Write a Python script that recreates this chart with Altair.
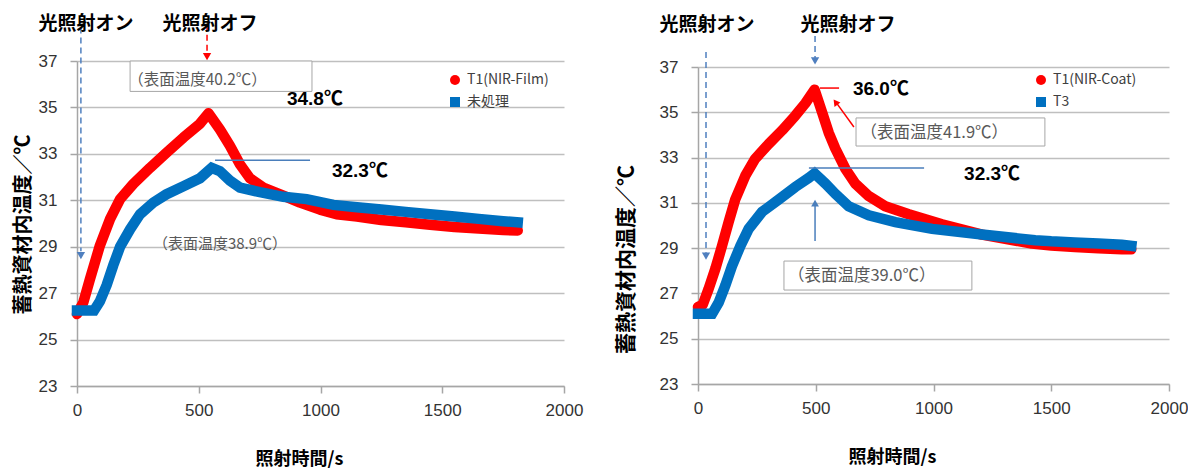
import altair as alt
import pandas as pd

# ---------------- data ----------------
L_RED_T = [0, 26, 53, 94, 136, 177, 231, 300, 368, 437, 505, 540, 587, 628, 669, 710, 765, 847, 916, 998, 1066, 1150, 1250, 1350, 1450, 1550, 1650, 1750, 1810]
L_RED_V = [26.1, 26.6, 27.6, 29.05, 30.2, 31.05, 31.7, 32.4, 33.05, 33.7, 34.3, 34.75, 34.05, 33.35, 32.55, 31.95, 31.55, 31.2, 30.9, 30.6, 30.4, 30.3, 30.15, 30.05, 29.95, 29.85, 29.78, 29.72, 29.7]
L_BLUE_T = [0, 70, 94, 122, 149, 177, 218, 259, 313, 366, 437, 505, 553, 587, 628, 669, 751, 847, 943, 1053, 1150, 1250, 1350, 1450, 1550, 1650, 1750, 1810]
L_BLUE_V = [26.25, 26.25, 26.65, 27.35, 28.2, 29.0, 29.75, 30.4, 30.9, 31.25, 31.6, 31.95, 32.4, 32.25, 31.85, 31.55, 31.35, 31.15, 31.05, 30.8, 30.7, 30.6, 30.5, 30.4, 30.3, 30.2, 30.1, 30.05]

R_RED_T = [0, 20, 45, 74, 102, 130, 158, 201, 243, 300, 357, 413, 456, 495, 527, 555, 583, 626, 668, 725, 795, 895, 1036, 1206, 1418, 1500, 1600, 1700, 1800, 1840]
R_RED_V = [26.4, 26.5, 27.2, 28.1, 29.1, 30.15, 31.15, 32.2, 32.95, 33.6, 34.2, 34.85, 35.4, 36.0, 35.0, 34.1, 33.4, 32.5, 31.85, 31.3, 30.85, 30.5, 30.05, 29.6, 29.2, 29.12, 29.05, 29.0, 28.95, 28.95]
R_BLUE_T = [0, 60, 88, 116, 144, 180, 215, 272, 343, 413, 470, 495, 541, 583, 640, 725, 838, 994, 1206, 1432, 1500, 1600, 1700, 1800, 1840]
R_BLUE_V = [26.1, 26.1, 26.6, 27.35, 28.2, 29.1, 29.85, 30.6, 31.15, 31.7, 32.1, 32.3, 31.85, 31.4, 30.85, 30.45, 30.15, 29.85, 29.6, 29.35, 29.3, 29.25, 29.2, 29.15, 29.1]

L_NAMES = ["T1(NIR-Film)", "未処理"]
R_NAMES = ["T1(NIR-Coat)", "T3"]
Y_TICKS = [23, 25, 27, 29, 31, 33, 35, 37]
X_TICKS = [0, 500, 1000, 1500, 2000]
X_TITLE = "照射時間/s"
Y_TITLE = "蓄熱資材内温度／℃"
ON_LABEL = "光照射オン"
OFF_LABEL = "光照射オフ"
L_PEAK_RED = "34.8℃"
L_PEAK_BLUE = "32.3℃"
L_SURF_RED = "（表面温度40.2℃）"
L_SURF_BLUE = "（表面温度38.9℃）"
R_PEAK_RED = "36.0℃"
R_PEAK_BLUE = "32.3℃"
R_SURF_RED = "（表面温度41.9℃）"
R_SURF_BLUE = "（表面温度39.0℃）"

# ---------------- styles ----------------
RED = "#ff0000"
BLUE = "#0070c0"
DASH_BLUE = "#4f7fbf"
LINE_BLUE = "#4a7ebb"
GRID = "#bfbfbf"
AXIS_C = "#a6a6a6"
GRAY_TXT = "#595959"
JP = "Noto Sans CJK JP"
NUM = "Liberation Sans, Noto Sans CJK JP"


def encodings(x_title_x, y_title_x, y_title_y, y_title_size):
    X = alt.X("t:Q", scale=alt.Scale(domain=[0, 2000], nice=False),
              axis=alt.Axis(values=X_TICKS, title=X_TITLE, grid=False, format="d", labelFlush=False,
                            titleX=x_title_x, titleY=73, titleBaseline="middle",
                            titleAnchor="start", titleAlign="center"))
    Y = alt.Y("v:Q", scale=alt.Scale(domain=[23, 37], nice=False, zero=False),
              axis=alt.Axis(values=Y_TICKS, title=Y_TITLE, grid=True, labelFlush=False,
                            titleX=y_title_x, titleY=y_title_y, titleAngle=270,
                            titleBaseline="middle", titleAlign="center",
                            titleFontSize=y_title_size))
    return X, Y


def panel(red_t, red_v, blue_t, blue_v, names, w, h, ann, enc, legend_xy):
    X, Y = enc
    red = pd.DataFrame({"t": red_t, "v": red_v})
    blue = pd.DataFrame({"t": blue_t, "v": blue_v})
    both = pd.concat([red.assign(s=names[0]), blue.assign(s=names[1])])

    layers = []
    layers.append(alt.Chart(red).mark_line(color=RED, strokeWidth=10.5, strokeJoin="round", strokeCap="round")
                  .encode(x=X, y=Y))
    layers.append(alt.Chart(blue).mark_line(color=BLUE, strokeWidth=10.5, strokeJoin="miter", strokeCap="square")
                  .encode(x=X, y=Y))
    # legend only (no marks drawn)
    layers.append(alt.Chart(both).mark_point(filled=True, opacity=1)
                  .encode(x=X, y=Y,
                          color=alt.Color("s:N", scale=alt.Scale(domain=names, range=[RED, BLUE]),
                                          legend=alt.Legend(orient="none", legendX=legend_xy[0], legendY=legend_xy[1],
                                                            title=None, symbolSize=100, labelFont=JP,
                                                            labelFontSize=14, labelColor="#404040",
                                                            rowPadding=8, labelOffset=5, padding=0,
                                                            symbolStrokeWidth=0)),
                          shape=alt.Shape("s:N", scale=alt.Scale(domain=names, range=["circle", "square"])))
                  .transform_filter("false"))

    for (t, v, t2, v2, color, dash, sw) in ann["rules"]:
        df = pd.DataFrame({"t": [t], "v": [v], "t2": [t2], "v2": [v2]})
        kw = dict(color=color, strokeWidth=sw)
        if dash:
            kw["strokeDash"] = dash
        layers.append(alt.Chart(df).mark_rule(**kw).encode(x=X, y=Y, x2="t2:Q", y2="v2:Q"))
    for (t, v, shape, angle, color, size) in ann["heads"]:
        df = pd.DataFrame({"t": [t], "v": [v]})
        layers.append(alt.Chart(df).mark_point(shape=shape, angle=angle, filled=True, color=color,
                                               size=size, opacity=1, strokeWidth=0)
                      .encode(x=X, y=Y))
    for (t, v, t2, v2) in ann["boxes"]:
        df = pd.DataFrame({"t": [t], "v": [v], "t2": [t2], "v2": [v2]})
        layers.append(alt.Chart(df).mark_rect(fill="white", stroke=AXIS_C, strokeWidth=1)
                      .encode(x=X, y=Y, x2="t2:Q", y2="v2:Q"))
    for (t, v, txt, font, size, weight, color, align) in ann["texts"]:
        df = pd.DataFrame({"t": [t], "v": [v], "label": [txt]})
        layers.append(alt.Chart(df).mark_text(font=font, fontSize=size, fontWeight=weight, color=color,
                                              align=align, baseline="middle")
                      .encode(x=X, y=Y, text="label:N"))
    return alt.layer(*layers).properties(width=w, height=h)


left_ann = {
    "rules": [
        (16, 38.44, 16, 28.8, DASH_BLUE, [6, 4], 1.5),
        (534, 38.56, 534, 37.3, RED, [6, 4], 1.5),
        (567, 32.73, 957, 32.73, LINE_BLUE, None, 1.5),
    ],
    "heads": [
        (16, 28.62, "triangle-down", 0, DASH_BLUE, 70),
        (534, 37.19, "triangle-down", 0, RED, 70),
    ],
    "boxes": [(218, 37.0, 965, 35.69)],
    "texts": [
        (37, 38.61, ON_LABEL, JP, 19, "bold", "#000000", "center"),
        (546, 38.61, OFF_LABEL, JP, 19, "bold", "#000000", "center"),
        (210, 36.2, L_SURF_RED, JP, 15.5, "normal", GRAY_TXT, "left"),
        (862, 35.35, L_PEAK_RED, NUM, 19, "bold", "#000000", "left"),
        (1047, 32.26, L_PEAK_BLUE, NUM, 19, "bold", "#000000", "left"),
        (312, 29.12, L_SURF_BLUE, JP, 15, "normal", GRAY_TXT, "left"),
    ],
}

right_ann = {
    "rules": [
        (34, 37.66, 34, 28.8, DASH_BLUE, [6, 4], 1.5),
        (497, 38.37, 497, 37.4, DASH_BLUE, [6, 4], 1.5),
        (518, 36.07, 599, 36.07, RED, None, 1.5),
        (662, 34.35, 584, 35.47, RED, None, 1.5),
        (471, 32.54, 960, 32.54, LINE_BLUE, None, 1.5),
        (497, 29.31, 497, 30.9, LINE_BLUE, None, 1.5),
    ],
    "heads": [
        (34, 28.65, "triangle-down", 0, DASH_BLUE, 70),
        (497, 37.27, "triangle-down", 0, DASH_BLUE, 70),
        (584, 35.45, "triangle-up", 323, RED, 55),
        (497, 30.99, "triangle-up", 0, LINE_BLUE, 60),
    ],
    "boxes": [(671, 34.75, 1473, 33.51), (365, 28.43, 1163, 27.15)],
    "texts": [
        (38, 38.86, ON_LABEL, JP, 19, "bold", "#000000", "center"),
        (637, 38.86, OFF_LABEL, JP, 19, "bold", "#000000", "center"),
        (658, 36.03, R_PEAK_RED, NUM, 19, "bold", "#000000", "left"),
        (690, 34.08, R_SURF_RED, JP, 16.5, "normal", GRAY_TXT, "left"),
        (1130, 32.27, R_PEAK_BLUE, NUM, 19, "bold", "#000000", "left"),
        (382, 27.77, R_SURF_BLUE, JP, 16.5, "normal", GRAY_TXT, "left"),
    ],
}

LW, LH = 487, 325
RW, RH = 471, 317

left = panel(L_RED_T, L_RED_V, L_BLUE_T, L_BLUE_V, L_NAMES, LW, LH, left_ann,
             encodings(222, -54, 163, 20), (371, 12))
right = panel(R_RED_T, R_RED_V, R_BLUE_T, R_BLUE_V, R_NAMES, RW, RH, right_ann,
              encodings(194, -72, 192, 21), (336, 12))

# small empty spacer that lowers the right panel relative to the left one
spacer = (alt.Chart(pd.DataFrame({"t": [0]})).mark_point(opacity=0)
          .encode(x=alt.value(0), y=alt.value(0))
          .properties(width=RW, height=6))
right_col = alt.vconcat(spacer, right, spacing=0, bounds="flush")

chart = (
    alt.hconcat(left, right_col, spacing=32)
    .resolve_scale(color="independent", shape="independent")
    .resolve_legend(color="independent", shape="independent")
    .properties(padding={"left": 13, "top": 14, "right": 0, "bottom": 0}, background="white")
    .configure_view(stroke=None)
    .configure_axis(
        labelFont=NUM, labelFontSize=17, labelColor="#333333",
        titleFont=JP, titleFontSize=18, titleFontWeight="bold", titleColor="#000000",
        domainColor=AXIS_C, domainWidth=1.5, tickColor=AXIS_C, tickWidth=1.5, tickSize=7,
        gridColor=GRID, gridWidth=1.5,
    )
    .configure_axisY(labelPadding=13)
    .configure_axisX(labelPadding=9)
)

chart.save("out.html", embed_options={"renderer": "svg", "actions": False})
